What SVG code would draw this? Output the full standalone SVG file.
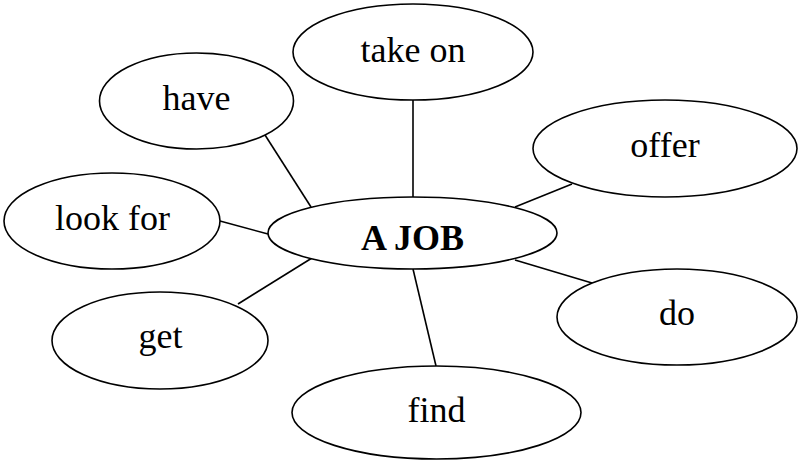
<svg xmlns="http://www.w3.org/2000/svg" width="799" height="461" viewBox="0 0 799 461">
<style>
.n ellipse{fill:#fff;stroke:#000;stroke-width:1.6}
.n text{font-family:"Liberation Serif","Times New Roman",serif;font-size:36px;text-anchor:middle;fill:#000}
.c line{stroke:#000;stroke-width:1.6}
</style>
<rect width="799" height="461" fill="#fff"/>
<g class="c" id="connectors">
<line x1="265" y1="135" x2="311" y2="207"/>
<line x1="413" y1="100" x2="413" y2="197"/>
<line x1="572" y1="184" x2="515" y2="207"/>
<line x1="220" y1="221" x2="268" y2="234"/>
<line x1="238" y1="304" x2="312" y2="258"/>
<line x1="515" y1="260" x2="592" y2="283"/>
<line x1="413" y1="269" x2="436" y2="366"/>
</g>
<g class="n" id="take-on"><ellipse cx="413" cy="52" rx="120" ry="48"/><text x="413" y="62">take on</text></g>
<g class="n" id="have"><ellipse cx="196.5" cy="101" rx="97" ry="48"/><text x="196.5" y="110">have</text></g>
<g class="n" id="offer"><ellipse cx="665" cy="148.5" rx="132" ry="48.5"/><text x="665" y="157">offer</text></g>
<g class="n" id="look-for"><ellipse cx="112" cy="221" rx="108" ry="48"/><text x="112.5" y="230">look for</text></g>
<g class="n" id="a-job"><ellipse cx="412.5" cy="233" rx="144.5" ry="36"/><text x="412.5" y="250" font-weight="bold">A JOB</text></g>
<g class="n" id="get"><ellipse cx="160" cy="340.5" rx="108" ry="48.5"/><text x="160.5" y="348">get</text></g>
<g class="n" id="do"><ellipse cx="677" cy="317" rx="120" ry="48"/><text x="677" y="325">do</text></g>
<g class="n" id="find"><ellipse cx="436.5" cy="412.5" rx="144.5" ry="46.5"/><text x="436.5" y="422">find</text></g>
</svg>
